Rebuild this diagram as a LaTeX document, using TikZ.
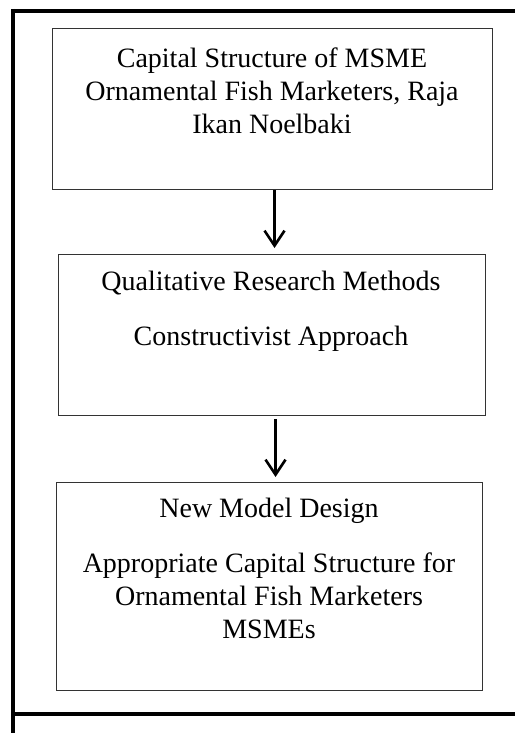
\documentclass[tikz,border=0pt]{standalone}
\usepackage{fontspec}
\setmainfont{Liberation Serif}
\usetikzlibrary{arrows.meta}

\tikzset{
  framebox/.style={draw=black!80, line width=1pt, rectangle, inner sep=0pt, anchor=north west},
  boxtext/.style={anchor=north, align=center, inner sep=0pt,
    font=\fontsize{28}{33}\selectfont},
  rule/.style={line width=4pt, black},
  flow/.style={line width=2.6pt, black, -{Straight Barb[length=15pt, width=20pt]}},
}

\begin{document}
\begin{tikzpicture}[x=1pt, y=-1pt]
  \useasboundingbox (0,0) rectangle (515,733);

  % outer frame rules
  \coordinate (tl) at (13,9);
  \coordinate (bl) at (13,733);
  \coordinate (tstart) at (15,11);
  \coordinate (tr) at (515,11);
  \coordinate (bstart) at (13,714);
  \coordinate (br) at (515,714);
  \draw[rule] (tl) -- (bl);
  \draw[rule] (tstart) -- (tr);
  \draw[rule] (bstart) -- (br);

  % boxes
  \node[framebox, minimum width=440pt, minimum height=161pt] (b1) at (52,28) {};
  \node[framebox, minimum width=427pt, minimum height=161pt] (b2) at (58,254) {};
  \node[framebox, minimum width=426pt, minimum height=208pt] (b3) at (56,482) {};

  % box texts
  \node[boxtext] (t1) at (272,48) {Capital Structure of MSME\\Ornamental Fish Marketers, Raja\\Ikan Noelbaki};
  \node[boxtext] (t2a) at (271,271) {Qualitative Research Methods};
  \node[boxtext] (t2b) at (271,326) {Constructivist Approach};
  \node[boxtext] (t3a) at (269,498) {New Model Design};
  \node[boxtext] (t3b) at (269,553) {Appropriate Capital Structure for\\Ornamental Fish Marketers\\MSMEs};

  % connectors
  \draw[flow, shorten >=6pt] ([xshift=2pt]b1.south) -- ([xshift=2.5pt]b2.north);
  \draw[flow, shorten <=3pt, shorten >=5pt] ([xshift=3.5pt]b2.south) -- ([xshift=6pt]b3.north);
\end{tikzpicture}
\end{document}
